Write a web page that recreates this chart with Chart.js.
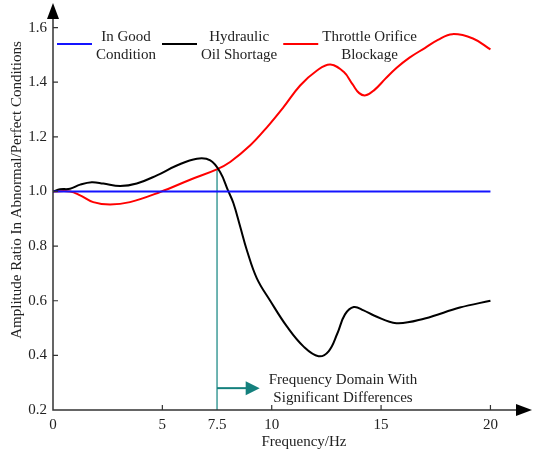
<!DOCTYPE html>
<html>
<head>
<meta charset="utf-8">
<script src="https://cdn.jsdelivr.net/npm/chart.js@4.4.1/dist/chart.umd.min.js"></script>
<style>
  html, body { margin: 0; padding: 0; background: #fff; }
  #wrap { width: 534px; height: 455px; }
</style>
</head>
<body>
<div id="wrap"><canvas id="chart"></canvas></div>
<script>
// ---- data ----
const seriesNames = [["In Good", "Condition"], ["Hydraulic", "Oil Shortage"], ["Throttle Orifice", "Blockage"]];
const seriesColors = ["#1414ff", "#000000", "#ff0000"];

const goodFreq = [0, 20];
const goodRatio = [1.0, 1.0];

const oilFreq  = [0, 0.32, 0.78, 1.24, 1.77, 2.3, 3.07, 3.83, 4.75, 5.66, 6.58, 7.19, 7.64, 8.0, 8.25, 8.56, 8.86, 9.32, 9.93, 10.7, 11.46, 12.14, 12.6, 13.0, 13.35, 13.75, 14.2, 14.7, 15.7, 17.0, 18.6, 20];
const oilRatio = [1.0, 1.008, 1.01, 1.025, 1.034, 1.029, 1.02, 1.029, 1.059, 1.095, 1.12, 1.114, 1.071, 1.004, 0.957, 0.871, 0.786, 0.682, 0.6, 0.505, 0.432, 0.397, 0.415, 0.48, 0.55, 0.577, 0.565, 0.545, 0.518, 0.535, 0.575, 0.6];

const orificeFreq  = [0, 0.78, 1.24, 1.84, 2.61, 3.52, 4.9, 6.27, 7.49, 8.1, 9.02, 9.78, 10.54, 11.3, 12.07, 12.68, 13.29, 13.7, 14.0, 14.3, 14.7, 15.2, 15.7, 16.3, 17.0, 17.6, 18.26, 19.2, 20];
const orificeRatio = [1.0, 1.0, 0.986, 0.961, 0.952, 0.961, 0.998, 1.043, 1.081, 1.108, 1.169, 1.235, 1.309, 1.388, 1.443, 1.465, 1.438, 1.392, 1.36, 1.352, 1.372, 1.413, 1.452, 1.49, 1.525, 1.555, 1.576, 1.56, 1.52];

const xTicks = [0, 5, 7.5, 10, 15, 20];
const yTicks = [0.2, 0.4, 0.6, 0.8, 1.0, 1.2, 1.4, 1.6];

// marker for the region where the curves separate
const markFreq = 7.5;
const markTop = 1.08;
const arrowTo = 9.45;
const arrowAt = 0.28;
const noteLines = ["Frequency Domain With", "Significant Differences"];

const FONT_FAMILY = '"Liberation Serif", "Times New Roman", serif';
const FONT = '15px ' + FONT_FAMILY;
const TEXT = '#222';
const TEAL = '#14807d';

function toPoints(xs, ys) {
  return xs.map((f, i) => ({ x: f, y: ys[i] }));
}

// axes with arrows, inward ticks, titles, legend and note
const decorPlugin = {
  id: 'decor',
  beforeDatasetsDraw(chart) {
    const { ctx, scales: { x, y } } = chart;
    const mx = x.getPixelForValue(markFreq);
    ctx.save();
    ctx.strokeStyle = '#3f9c99';
    ctx.lineWidth = 1.5;
    ctx.beginPath();
    ctx.moveTo(mx, y.getPixelForValue(0.2));
    ctx.lineTo(mx, y.getPixelForValue(markTop));
    ctx.stroke();

    const ay = y.getPixelForValue(arrowAt);
    const ax = x.getPixelForValue(arrowTo);
    ctx.strokeStyle = TEAL;
    ctx.fillStyle = TEAL;
    ctx.lineWidth = 2;
    ctx.beginPath();
    ctx.moveTo(mx, ay);
    ctx.lineTo(ax - 12, ay);
    ctx.stroke();
    ctx.beginPath();
    ctx.moveTo(ax, ay);
    ctx.lineTo(ax - 14, ay - 7);
    ctx.lineTo(ax - 14, ay + 7);
    ctx.closePath();
    ctx.fill();
    ctx.restore();
  },
  afterDraw(chart) {
    const { ctx, chartArea: a, scales: { x, y } } = chart;
    ctx.save();

    // axis lines
    ctx.strokeStyle = '#333';
    ctx.lineWidth = 1.5;
    ctx.beginPath();
    ctx.moveTo(a.left, a.top + 12);
    ctx.lineTo(a.left, a.bottom);
    ctx.lineTo(a.right - 12, a.bottom);
    ctx.stroke();

    // inward tick marks
    ctx.lineWidth = 1.2;
    ctx.beginPath();
    yTicks.slice(1).forEach(v => {
      const py = y.getPixelForValue(v);
      ctx.moveTo(a.left, py);
      ctx.lineTo(a.left + 5, py);
    });
    [5, 10, 15, 20].forEach(v => {
      const px = x.getPixelForValue(v);
      ctx.moveTo(px, a.bottom);
      ctx.lineTo(px, a.bottom - 5);
    });
    ctx.stroke();

    // arrow heads
    ctx.fillStyle = '#000';
    ctx.beginPath();
    ctx.moveTo(a.left, a.top);
    ctx.lineTo(a.left - 6, a.top + 16);
    ctx.lineTo(a.left + 6, a.top + 16);
    ctx.closePath();
    ctx.fill();
    ctx.beginPath();
    ctx.moveTo(a.right, a.bottom);
    ctx.lineTo(a.right - 16, a.bottom - 6);
    ctx.lineTo(a.right - 16, a.bottom + 6);
    ctx.closePath();
    ctx.fill();

    // axis titles
    ctx.fillStyle = TEXT;
    ctx.font = FONT;
    ctx.textAlign = 'center';
    ctx.textBaseline = 'middle';
    ctx.fillText('Frequency/Hz', 304, 442);
    ctx.save();
    ctx.translate(17, 190);
    ctx.rotate(-Math.PI / 2);
    ctx.fillText('Amplitude Ratio In Abnormal/Perfect Conditions', 0, 0);
    ctx.restore();

    // legend
    let lx = 57;
    chart.data.datasets.forEach((ds, i) => {
      const lines = seriesNames[i];
      ctx.strokeStyle = ds.borderColor;
      ctx.lineWidth = 2;
      ctx.beginPath();
      ctx.moveTo(lx, 44);
      ctx.lineTo(lx + 35, 44);
      ctx.stroke();
      const w = Math.max(...lines.map(t => ctx.measureText(t).width));
      const cx = lx + 39 + w / 2;
      ctx.fillStyle = TEXT;
      ctx.fillText(lines[0], cx, 37);
      ctx.fillText(lines[1], cx, 55);
      lx = lx + 39 + w + 6;
    });

    // note next to the arrow
    ctx.fillText(noteLines[0], 343, 380);
    ctx.fillText(noteLines[1], 343, 398);

    ctx.restore();
  }
};

new Chart(document.getElementById('chart'), {
  type: 'line',
  data: {
    datasets: [
      { label: seriesNames[0].join(' '), data: toPoints(goodFreq, goodRatio), borderColor: seriesColors[0] },
      { label: seriesNames[1].join(' '), data: toPoints(oilFreq, oilRatio), borderColor: seriesColors[1] },
      { label: seriesNames[2].join(' '), data: toPoints(orificeFreq, orificeRatio), borderColor: seriesColors[2] }
    ]
  },
  options: {
    responsive: true,
    maintainAspectRatio: false,
    animation: false,
    layout: { padding: { top: 3, right: 2, left: 0, bottom: 0 } },
    elements: {
      point: { radius: 0 },
      line: { borderWidth: 2, tension: 0.4, fill: false }
    },
    plugins: {
      legend: { display: false },
      tooltip: { enabled: false }
    },
    scales: {
      x: {
        type: 'linear',
        min: 0,
        max: 21.9,
        grid: { display: false, drawTicks: false },
        border: { display: false },
        afterBuildTicks: s => { s.ticks = xTicks.map(v => ({ value: v })); },
        afterFit: s => { s.height = 45; s.paddingLeft = 0; s.paddingRight = 0; },
        ticks: {
          autoSkip: false,
          maxRotation: 0,
          padding: 6,
          color: TEXT,
          font: { family: FONT_FAMILY, size: 15 },
          callback: v => String(v)
        }
      },
      y: {
        min: 0.2,
        max: 1.69,
        grid: { display: false, drawTicks: false },
        border: { display: false },
        afterBuildTicks: s => { s.ticks = yTicks.map(v => ({ value: v })); },
        afterFit: s => { s.width = 53; s.paddingTop = 0; s.paddingBottom = 0; },
        ticks: {
          autoSkip: false,
          padding: 6,
          color: TEXT,
          font: { family: FONT_FAMILY, size: 15 },
          callback: v => v.toFixed(1)
        }
      }
    }
  },
  plugins: [decorPlugin]
});
</script>
</body>
</html>
